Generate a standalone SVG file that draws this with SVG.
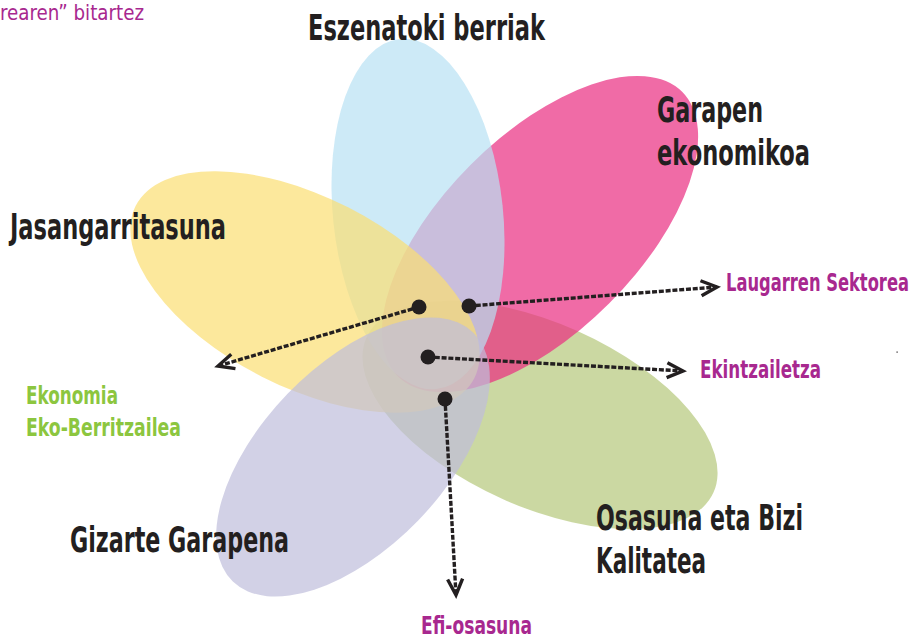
<svg xmlns="http://www.w3.org/2000/svg" width="917" height="639" viewBox="0 0 917 639">
<style>
.lbl{font-family:"Liberation Sans Narrow","DejaVu Sans Condensed","Liberation Sans",sans-serif;font-stretch:condensed;font-weight:bold}
.big{font-size:35px;fill:#231f20}
.mag{font-size:24px;fill:#a8288f}
.grn{font-size:24px;fill:#8cc63f}
.sm{font-size:22px;fill:#a8288f;font-weight:normal}
.shape{opacity:0.7}
.conn{fill:none;stroke:#231f20;stroke-width:3.4;stroke-dasharray:5 1.8}
.dot{fill:#231f20}
</style>
<defs>
<marker id="ah" markerUnits="userSpaceOnUse" markerWidth="26" markerHeight="26" viewBox="-20 -13 26 26" refX="0" refY="0" orient="auto">
<path d="M-16,-7.5 L0,0 L-16,7.5" fill="none" stroke="#231f20" stroke-width="3.4"/>
</marker>
</defs>
<rect width="917" height="639" fill="#ffffff"/>
<g id="osasuna-shape"><ellipse class="shape" cx="540" cy="415" rx="190" ry="92" transform="rotate(24 540 415)" fill="#b5c87b"/></g>
<g id="garapen-shape"><ellipse class="shape" cx="540" cy="234" rx="201" ry="98" transform="rotate(-45 540 234)" fill="#ea2c80"/></g>
<g id="eszenatoki-shape"><ellipse class="shape" cx="418" cy="214" rx="85" ry="176" transform="rotate(-6 418 214)" fill="#b8e1f4"/></g>
<g id="jasangarritasuna-shape"><ellipse class="shape" cx="305" cy="292" rx="190" ry="95" transform="rotate(27 305 292)" fill="#fbde72"/></g>
<g id="gizarte-shape"><ellipse class="shape" cx="353" cy="457" rx="173" ry="91" transform="rotate(-46 353 457)" fill="#bfbddb"/></g>

<g id="connectors">
<path class="conn" d="M419,307 L218,366" marker-end="url(#ah)"/>
<path class="conn" d="M469,306 L717,287" marker-end="url(#ah)"/>
<path class="conn" d="M428,357 L683,371" marker-end="url(#ah)"/>
<path class="conn" d="M445,399 L456,595" marker-end="url(#ah)"/>
<circle class="dot" cx="419" cy="307" r="7.5"/>
<circle class="dot" cx="469" cy="306" r="7.5"/>
<circle class="dot" cx="428" cy="357" r="7.5"/>
<circle class="dot" cx="445" cy="399" r="7.5"/>
</g>

<g id="label-top"><text class="lbl sm" x="0" y="20" textLength="144" lengthAdjust="spacingAndGlyphs">rearen” bitartez</text></g>
<g id="eszenatoki"><text class="lbl big" x="308" y="40" textLength="237" lengthAdjust="spacingAndGlyphs">Eszenatoki berriak</text></g>
<g id="garapen">
<text class="lbl big" x="657" y="122" textLength="106" lengthAdjust="spacingAndGlyphs">Garapen</text>
<text class="lbl big" x="657" y="165" textLength="153" lengthAdjust="spacingAndGlyphs">ekonomikoa</text>
</g>
<g id="jasangarritasuna"><text class="lbl big" x="10" y="239" textLength="216" lengthAdjust="spacingAndGlyphs">Jasangarritasuna</text></g>
<g id="gizarte"><text class="lbl big" x="70" y="552" textLength="219" lengthAdjust="spacingAndGlyphs">Gizarte Garapena</text></g>
<g id="osasuna">
<text class="lbl big" x="596" y="530" textLength="207" lengthAdjust="spacingAndGlyphs">Osasuna eta Bizi</text>
<text class="lbl big" x="596" y="573" textLength="110" lengthAdjust="spacingAndGlyphs">Kalitatea</text>
</g>
<g id="laugarren"><text class="lbl mag" x="0" y="0" transform="translate(726,291) scale(0.75,1)" textLength="244" lengthAdjust="spacingAndGlyphs">Laugarren Sektorea</text></g>
<g id="ekintzailetza"><text class="lbl mag" x="700" y="378" textLength="121" lengthAdjust="spacingAndGlyphs">Ekintzailetza</text></g>
<g id="ekonomia">
<text class="lbl grn" x="26" y="404" textLength="92" lengthAdjust="spacingAndGlyphs">Ekonomia</text>
<text class="lbl grn" x="26" y="436" textLength="155" lengthAdjust="spacingAndGlyphs">Eko-Berritzailea</text>
</g>
<g id="efi-osasuna"><text class="lbl mag" x="421" y="634" textLength="111" lengthAdjust="spacingAndGlyphs">Efi-osasuna</text></g>
<rect x="896.5" y="351.5" width="1.2" height="1.2" fill="#231f20"/>
</svg>
